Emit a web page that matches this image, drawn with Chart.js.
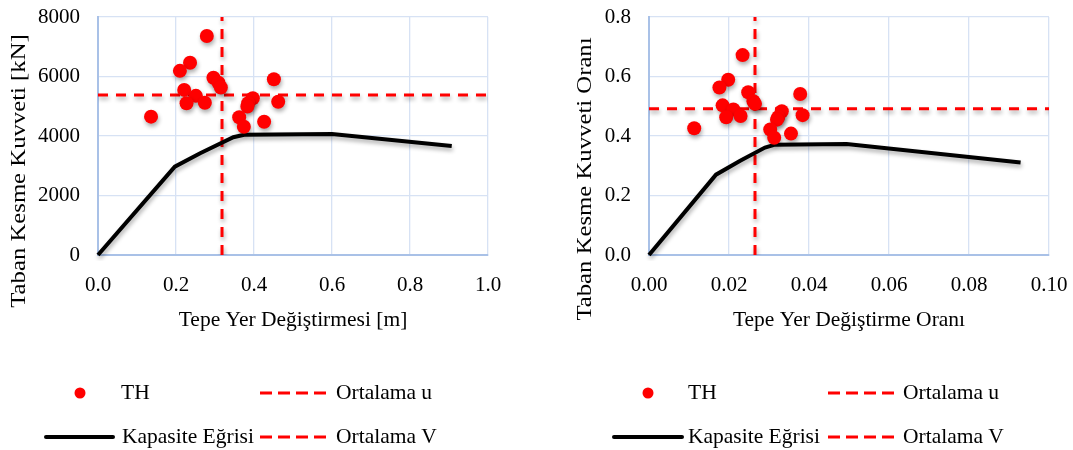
<!DOCTYPE html>
<html>
<head>
<meta charset="utf-8">
<script src="https://cdn.jsdelivr.net/npm/chart.js@4.4.1/dist/chart.umd.min.js"></script>
<style>
  html, body { margin: 0; padding: 0; background: #fff; width: 1073px; height: 450px; overflow: hidden; }
  canvas { position: absolute; top: 0; }
  #dispChart { left: 0; }
  #driftChart { left: 536px; }
</style>
</head>
<body>
<canvas id="dispChart" width="536" height="450"></canvas>
<canvas id="driftChart" width="537" height="450"></canvas>
<script>
// Time-history (TH) peak roof displacement [m] and base shear [kN]
const thDisp  = [0.279, 0.236, 0.210, 0.296, 0.451, 0.309, 0.315, 0.221, 0.251, 0.227,
                 0.274, 0.397, 0.385, 0.383, 0.462, 0.136, 0.362, 0.374, 0.426];
const thShear = [7360, 6460, 6190, 5960, 5910, 5790, 5630, 5550, 5350, 5100,
                 5120, 5270, 5100, 4990, 5150, 4650, 4630, 4310, 4480];

// Same records as roof drift ratio and base shear ratio
const thDrift = [0.0234, 0.0198, 0.0176, 0.0248, 0.0378, 0.0261, 0.0265, 0.0184, 0.0211, 0.0193,
                 0.0229, 0.0332, 0.0323, 0.0320, 0.0384, 0.0113, 0.0303, 0.0313, 0.0355];
const thRatio = [0.672, 0.589, 0.563, 0.547, 0.541, 0.517, 0.508, 0.503, 0.489, 0.463,
                 0.467, 0.483, 0.463, 0.455, 0.470, 0.426, 0.422, 0.394, 0.408];

// Pushover capacity curve
const capDisp  = [0, 0.197, 0.262, 0.347, 0.375, 0.600, 0.907];
const capShear = [0, 2970, 3420, 3960, 4040, 4065, 3665];
const capDrift = [0, 0.01675, 0.0228, 0.0290, 0.0315, 0.0494, 0.0929];
const capRatio = [0, 0.270, 0.317, 0.361, 0.371, 0.373, 0.311];

// Mean values of the TH responses
const meanDisp = 0.318, meanShear = 5380;
const meanDrift = 0.0265, meanRatio = 0.492;

// Axis ticks
const dispTicks  = [0, 0.2, 0.4, 0.6, 0.8, 1.0];
const shearTicks = [0, 2000, 4000, 6000, 8000];
const driftTicks = [0, 0.02, 0.04, 0.06, 0.08, 0.10];
const ratioTicks = [0, 0.2, 0.4, 0.6, 0.8];

// Legend labels
const legendLabels = ['TH', 'Ortalama u', 'Kapasite Eğrisi', 'Ortalama V'];

const FONT = '"Liberation Serif", "Times New Roman", serif';
const TEXT_SIZE = 21.5;
const TICK_SIZE = 21;
const RED = '#ff0000';
const GRID = '#d7e2f4';
const AXIS = '#a9c1e7';
const DASH = [10, 8];
const PLOT_TOP = 17;

const zip = (xs, ys) => xs.map((x, i) => ({ x, y: ys[i] }));

// Soft drop shadow under the plotted marks
const shadowPlugin = {
  id: 'markShadow',
  beforeDatasetDraw(chart) {
    const c = chart.ctx;
    c.save();
    c.shadowColor = 'rgba(0,0,0,0.32)';
    c.shadowBlur = 4;
    c.shadowOffsetX = 1;
    c.shadowOffsetY = 3;
  },
  afterDatasetDraw(chart) { chart.ctx.restore(); }
};

// Axis titles and the two-column legend under the plot
function decorPlugin(spec) {
  return {
    id: 'decor',
    afterDraw(chart) {
      const c = chart.ctx;
      const a = chart.chartArea;
      c.save();
      c.fillStyle = '#000';
      c.font = TEXT_SIZE + 'px ' + FONT;
      c.textBaseline = 'middle';

      // x title
      c.textAlign = 'center';
      c.fillText(spec.xTitle, (a.left + a.right) / 2, 320);

      // y title (rotated, drawn slightly elongated)
      c.save();
      c.translate(spec.yTitleX, spec.yTitleY);
      c.rotate(-Math.PI / 2);
      c.scale(1.15, 1);
      c.fillText(spec.yTitle, 0, 0);
      c.restore();

      // legend
      const L = spec.legend;
      c.textAlign = 'left';
      // TH marker
      c.fillStyle = RED;
      c.beginPath();
      c.arc(L.dotX, L.y1, 5.5, 0, Math.PI * 2);
      c.fill();
      c.fillStyle = '#000';
      c.fillText(legendLabels[0], L.thX, L.y1);
      // capacity curve swatch
      c.strokeStyle = '#000';
      c.lineWidth = 4;
      c.lineCap = 'round';
      c.beginPath();
      c.moveTo(L.lineX0, L.y2);
      c.lineTo(L.lineX1, L.y2);
      c.stroke();
      c.fillText(legendLabels[2], L.kapX, L.y2);
      // dashed mean swatches
      c.strokeStyle = RED;
      c.lineWidth = 3;
      c.lineCap = 'butt';
      c.setLineDash([12, 6]);
      [L.y1, L.y2].forEach(y => {
        c.beginPath();
        c.moveTo(L.dashX, y);
        c.lineTo(L.dashX + 66, y);
        c.stroke();
      });
      c.setLineDash([]);
      c.fillText(legendLabels[1], L.ortX, L.y1);
      c.fillText(legendLabels[3], L.ortX, L.y2);
      c.restore();
    }
  };
}

function createChart(id, s, padding) {
  const tickFont = { family: FONT, size: TICK_SIZE };
  return new Chart(document.getElementById(id), {
    type: 'scatter',
    data: {
      datasets: [
        {
          label: legendLabels[0],
          data: zip(s.px, s.py),
          backgroundColor: RED,
          borderColor: RED,
          pointRadius: 7,
          pointBorderWidth: 0,
          order: 0
        },
        {
          label: legendLabels[2],
          data: zip(s.cx, s.cy),
          showLine: true,
          borderColor: '#000',
          borderWidth: 4,
          pointRadius: 0,
          fill: false,
          tension: 0,
          clip: 6,
          order: 1
        },
        {
          label: legendLabels[1],
          data: [{ x: s.mx, y: s.yTicks[0] }, { x: s.mx, y: s.yTicks[s.yTicks.length - 1] }],
          showLine: true,
          borderColor: RED,
          borderWidth: 3,
          borderDash: DASH,
          pointRadius: 0,
          order: 2
        },
        {
          label: legendLabels[3],
          data: [{ x: s.xTicks[0], y: s.my }, { x: s.xTicks[s.xTicks.length - 1], y: s.my }],
          showLine: true,
          borderColor: RED,
          borderWidth: 3,
          borderDash: DASH,
          pointRadius: 0,
          order: 2
        }
      ]
    },
    options: {
      responsive: false,
      animation: false,
      devicePixelRatio: 1,
      layout: { padding },
      plugins: { legend: { display: false }, tooltip: { enabled: false } },
      scales: {
        x: {
          type: 'linear',
          min: s.xTicks[0],
          max: s.xTicks[s.xTicks.length - 1],
          afterBuildTicks: sc => { sc.ticks = s.xTicks.map(v => ({ value: v })); },
          afterFit: sc => { sc.height = 195; sc.paddingLeft = 0; sc.paddingRight = 0; },
          grid: { color: GRID, lineWidth: 1.3, drawTicks: false },
          border: { color: AXIS, width: 2 },
          ticks: {
            padding: 18, color: '#000', font: tickFont, maxRotation: 0, autoSkip: false,
            callback: v => Number(v).toFixed(s.xDec)
          }
        },
        y: {
          type: 'linear',
          min: s.yTicks[0],
          max: s.yTicks[s.yTicks.length - 1],
          afterBuildTicks: sc => { sc.ticks = s.yTicks.map(v => ({ value: v })); },
          afterFit: sc => { sc.width = s.yWidth; sc.paddingTop = 0; sc.paddingBottom = 0; },
          grid: { color: GRID, lineWidth: 1.3, drawTicks: false },
          border: { color: AXIS, width: 2 },
          ticks: {
            padding: 18, color: '#000', font: tickFont, autoSkip: false,
            callback: v => s.yDec === 0 ? String(Math.round(v)) : Number(v).toFixed(s.yDec)
          }
        }
      }
    },
    plugins: [shadowPlugin, decorPlugin(s.decor)]
  });
}

// Place the plot box exactly: build, measure where it landed, and rebuild
// with corrected padding if the layout shifted it.
function buildChart(id, s) {
  const padding = { left: 0, top: PLOT_TOP, right: s.padRight, bottom: 0 };
  let chart = createChart(id, s, Object.assign({}, padding));
  for (let i = 0; i < 3; i++) {
    const a = chart.chartArea;
    const dTop = a.top - PLOT_TOP;
    const dRight = a.right - s.plotRight;
    if (Math.abs(dTop) < 0.5 && Math.abs(dRight) < 0.5) break;
    padding.top = Math.max(0, padding.top - dTop);
    padding.right = Math.max(0, padding.right + dRight);
    chart.destroy();
    chart = createChart(id, s, Object.assign({}, padding));
  }
  return chart;
}

buildChart('dispChart', {
  px: thDisp, py: thShear, cx: capDisp, cy: capShear, mx: meanDisp, my: meanShear,
  xTicks: dispTicks, yTicks: shearTicks, xDec: 1, yDec: 0,
  yWidth: 98, padRight: 48, plotRight: 488,
  decor: {
    xTitle: 'Tepe Yer Değiştirmesi [m]',
    yTitle: 'Taban Kesme Kuvveti [kN]',
    yTitleX: 19, yTitleY: 171,
    legend: { y1: 393, y2: 437, dotX: 80, thX: 121, lineX0: 46, lineX1: 113, kapX: 122, dashX: 260, ortX: 336 }
  }
});

buildChart('driftChart', {
  px: thDrift, py: thRatio, cx: capDrift, cy: capRatio, mx: meanDrift, my: meanRatio,
  xTicks: driftTicks, yTicks: ratioTicks, xDec: 2, yDec: 1,
  yWidth: 113, padRight: 24, plotRight: 513,
  decor: {
    xTitle: 'Tepe Yer Değiştirme Oranı',
    yTitle: 'Taban Kesme Kuvveti Oranı',
    yTitleX: 49, yTitleY: 179,
    legend: { y1: 393, y2: 437, dotX: 112, thX: 152, lineX0: 78, lineX1: 146, kapX: 152, dashX: 292, ortX: 367 }
  }
});
</script>
</body>
</html>
